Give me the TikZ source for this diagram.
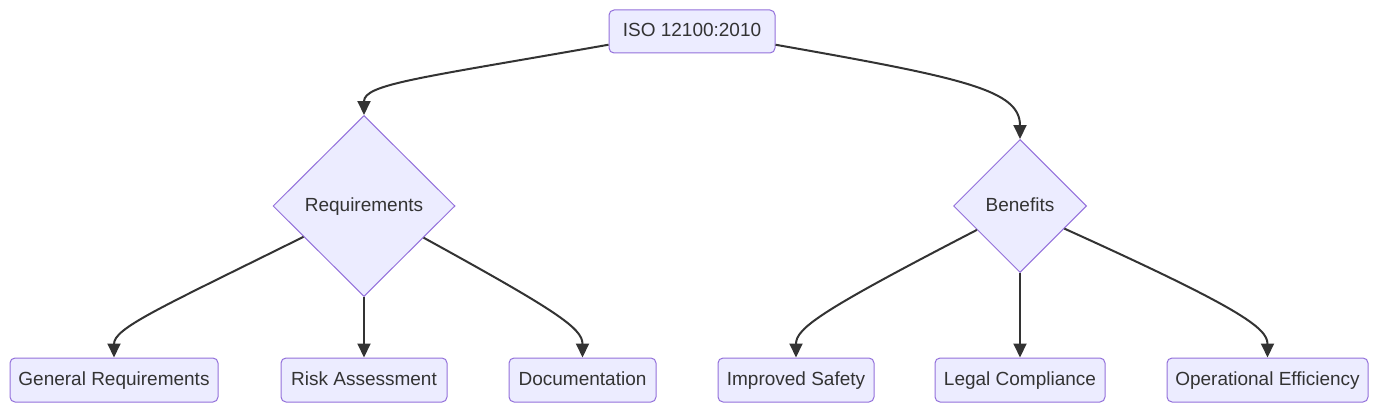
\documentclass[tikz,border=0pt]{standalone}
\usepackage{fontspec}
\setmainfont{Liberation Sans}
\usetikzlibrary{arrows.meta,shapes.geometric}
\definecolor{nodefill}{HTML}{ECECFF}
\definecolor{nodeline}{HTML}{9370DB}
\definecolor{ink}{HTML}{333333}

\begin{document}
\begin{tikzpicture}[x=1pt,y=-1pt,
    box/.style={draw=nodeline,fill=nodefill,rounded corners=5pt,line width=1pt,
      minimum height=44pt,inner xsep=4pt,text height=14pt,text depth=4pt,
      text=ink,font=\fontsize{19}{22}\selectfont},
    choice/.style={diamond,draw=nodeline,fill=nodefill,line width=1pt,inner sep=0pt,
      text height=14pt,text depth=4pt,text=ink,font=\fontsize{19}{22}\selectfont},
    link/.style={draw=ink,line width=2pt,-{Triangle[length=14pt,width=13pt]}}]
  \useasboundingbox (0,0) rectangle (1379,412);

  %% ── top ──
  \node[box,minimum width=166pt,minimum height=43pt] (iso) at (692,31.5) {ISO 12100:2010};

  %% ── the two branches ──
  \node[choice,minimum width=182pt,minimum height=181pt] (req) at (364,206) {Requirements};
  \node[choice,minimum width=133pt,minimum height=133pt] (ben) at (1020,206) {Benefits};

  %% ── leaves ──
  \node[box,minimum width=208pt] (gen) at (114,380)  {General Requirements};
  \node[box,minimum width=166pt] (risk) at (364,380) {Risk Assessment};
  \node[box,minimum width=147pt] (doc) at (582.5,380) {Documentation};
  \node[box,minimum width=156pt] (safe) at (796,380) {Improved Safety};
  \node[box,minimum width=170pt] (legal) at (1020,380) {Legal Compliance};
  \node[box,minimum width=201pt] (ops) at (1267.5,380) {Operational Efficiency};

  %% ── links ──
  \draw[link] (iso.189) .. controls (420,78) and (364,84) .. (req.north);
  \draw[link] (iso.351) .. controls (964,78) and (1020,90) .. (ben.north);

  \draw[link] (req.207) .. controls (160,308) and (114,328) .. (gen.north);
  \draw[link] (req.south) -- (risk.north);
  \draw[link] (req.332) .. controls (555,310) and (582.5,328) .. (doc.north);

  \draw[link] (ben.209) .. controls (822,310) and (796,328) .. (safe.north);
  \draw[link] (ben.south) -- (legal.north);
  \draw[link] (ben.333) .. controls (1240,308) and (1267.5,328) .. (ops.north);
\end{tikzpicture}
\end{document}
